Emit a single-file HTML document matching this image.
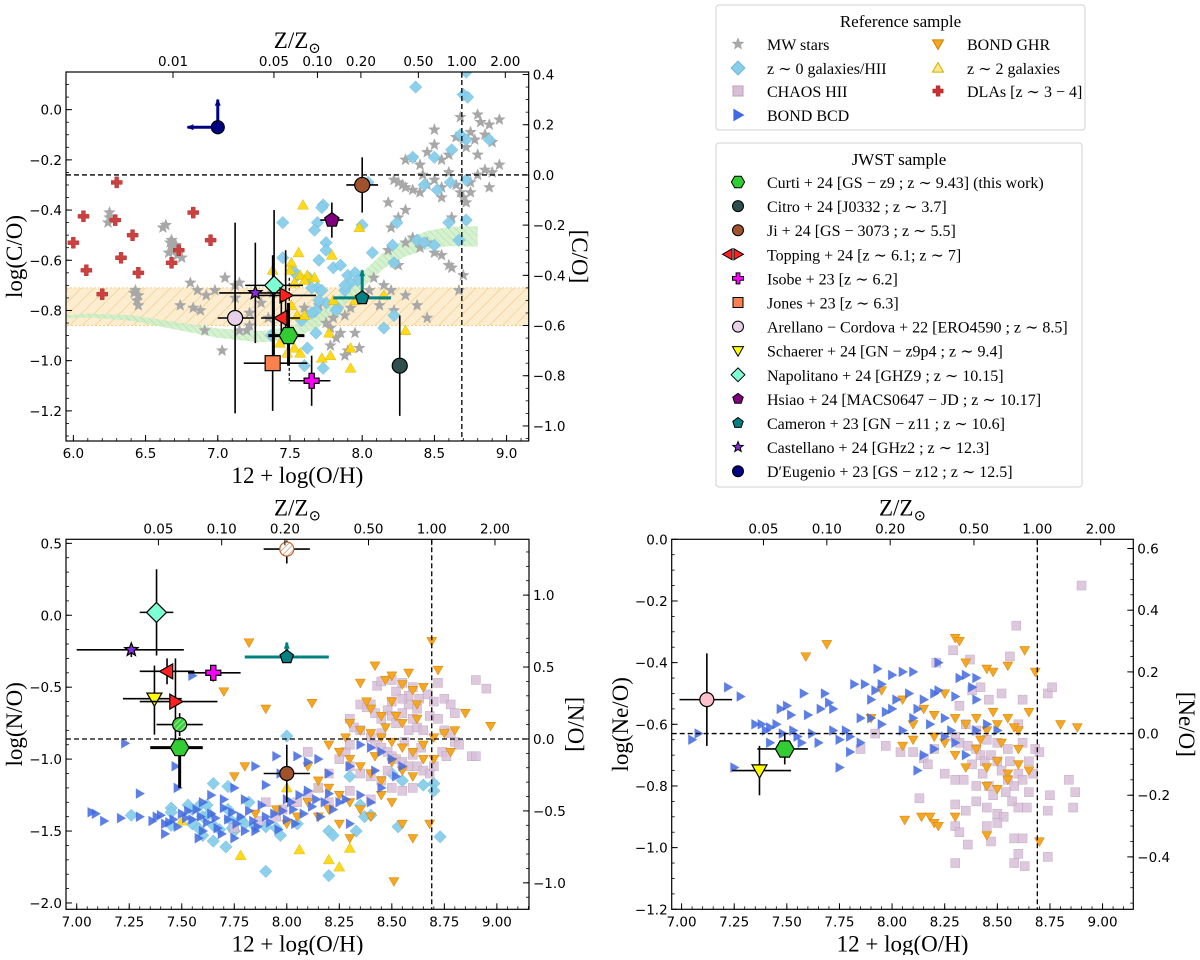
<!DOCTYPE html>
<html><head><meta charset="utf-8"><style>
body{margin:0;background:#fff}
svg text{font-family:"DejaVu Sans",sans-serif}
.serif{font-family:"Liberation Serif","DejaVu Serif",serif}
</style></head><body>
<svg id="fig" xmlns="http://www.w3.org/2000/svg" width="1200" height="955" viewBox="0 0 1200 955">
<defs>
<pattern id="hatchO" patternUnits="userSpaceOnUse" width="9" height="9" patternTransform="rotate(45)"><rect width="9" height="9" fill="#fde9c4" fill-opacity="0.8"/><line x1="0" y1="0" x2="0" y2="9" stroke="#e8b64a" stroke-width="0.8"/></pattern>
<pattern id="hatchG" patternUnits="userSpaceOnUse" width="5" height="5" patternTransform="rotate(-45)"><rect width="5" height="5" fill="#cdeec8"/><line x1="0" y1="0" x2="0" y2="5" stroke="#8fd48a" stroke-width="0.8"/></pattern>
<pattern id="hatchGr" patternUnits="userSpaceOnUse" width="4" height="4" patternTransform="rotate(45)"><rect width="4" height="4" fill="#3bd13b"/><line x1="0" y1="0" x2="0" y2="4" stroke="#fff" stroke-width="1"/></pattern>
<pattern id="hatchBr" patternUnits="userSpaceOnUse" width="4" height="4" patternTransform="rotate(45)"><rect width="4" height="4" fill="#fff"/><line x1="0" y1="0" x2="0" y2="4" stroke="#d0804a" stroke-width="1.2"/></pattern>
</defs>
</svg>
<script>
// ---------------- DATA ----------------
const dlaX=[6.30,6.07,6.29,6.83,6.00,6.41,6.95,6.09,6.33,6.45,6.20,6.73,6.68];
const dlaY=[-0.29,-0.425,-0.44,-0.41,-0.53,-0.50,-0.52,-0.64,-0.59,-0.65,-0.735,-0.56,-0.61];
const mwX=[6.25,6.25,6.27,6.24,6.43,6.45,6.44,6.45,6.42,6.62,6.64,6.67,6.69,6.70,6.66,6.71,6.72,6.75,6.68,6.81,6.86,6.92,6.98,7.05,7.12,7.15,6.74,6.83,6.88,6.91,7.03,7.15,7.2,7.22,7.12,7.22,7.3,7.35,7.38,7.6,7.65,7.7,7.75,7.78,7.8,7.85,7.88,7.82,7.78,7.9,7.95,7.98,7.88,7.92,8.05,8.08,8.15,8.2,8.12,8.22,8.3,8.18,8.22,8.25,8.3,8.35,8.4,8.45,8.5,8.55,8.6,8.62,8.67,8.7,8.38,8.45,8.2,8.25,8.3,8.18,8.22,8.25,8.28,8.3,8.35,8.4,8.45,8.5,8.55,8.6,8.65,8.68,8.7,8.72,8.75,8.8,8.85,8.9,8.88,8.4,8.45,8.5,8.55,8.6,8.65,8.7,8.72,8.75,8.78,8.8,8.82,8.85,8.9,8.95,8.95,8.68,8.5,8.3,8.35,8.42,8.55,8.62,8.75,8.88,8.8];
const mwY=[-0.41,-0.43,-0.44,-0.45,-0.72,-0.74,-0.76,-0.78,-0.73,-0.47,-0.46,-0.53,-0.55,-0.56,-0.57,-0.54,-0.58,-0.59,-0.52,-0.69,-0.72,-0.74,-0.72,-0.67,-0.70,-0.69,-0.78,-0.79,-0.80,-0.88,-0.96,-0.88,-0.88,-0.86,-0.75,-0.81,-0.77,-0.83,-0.73,-0.79,-0.81,-0.78,-0.85,-0.87,-0.83,-0.89,-0.82,-0.91,-0.94,-0.96,-0.89,-0.95,-0.98,-0.79,-0.72,-0.67,-0.70,-0.72,-0.78,-0.80,-0.74,-0.56,-0.61,-0.62,-0.53,-0.51,-0.55,-0.53,-0.57,-0.58,-0.62,-0.63,-0.72,-0.66,-0.78,-0.83,-0.47,-0.43,-0.40,-0.37,-0.28,-0.29,-0.30,-0.31,-0.32,-0.33,-0.30,-0.28,-0.31,-0.25,-0.30,-0.33,-0.35,-0.37,-0.29,-0.26,-0.24,-0.25,-0.31,-0.22,-0.17,-0.14,-0.20,-0.18,-0.11,-0.12,-0.15,-0.09,-0.12,-0.18,-0.05,-0.10,-0.13,-0.04,-0.22,-0.03,-0.08,-0.20,-0.19,-0.26,-0.35,-0.43,-0.33,-0.06,-0.02];
const z0X=[8.37,8.72,8.70,8.73,8.35,8.50,8.62,8.68,8.72,8.88,8.43,8.52,8.61,8.72,8.04,7.73,7.72,7.69,7.67,8.00,7.45,8.24,8.60,8.72,7.75,7.75,7.70,7.45,8.21,8.38,8.43,8.07,8.22,8.67,7.52,7.55,7.63,7.69,7.75,7.72,7.80,7.85,7.90,7.95,7.97,7.88,7.92,7.83,7.70,7.68,7.65,7.58,7.68,7.62,7.73,7.60,7.37,7.65,7.82,8.22,8.15,8.50,7.88];
const z0Y=[0.09,0.15,0.06,0.05,-0.19,-0.19,-0.16,-0.10,-0.12,-0.12,-0.30,-0.32,-0.29,-0.28,-0.29,-0.38,-0.39,-0.45,-0.48,-0.46,-0.45,-0.45,-0.45,-0.44,-0.53,-0.56,-0.60,-0.59,-0.54,-0.52,-0.53,-0.57,-0.61,-0.52,-0.64,-0.66,-0.67,-0.71,-0.77,-0.72,-0.63,-0.62,-0.66,-0.65,-0.68,-0.72,-0.69,-0.79,-0.76,-0.80,-0.81,-0.84,-0.89,-0.95,-1.03,-1.02,-0.90,-0.71,-0.80,-0.82,-0.87,-0.54,-0.70];
const z2X=[7.59,7.98,7.56,7.79,7.38,7.51,7.50,7.57,7.62,7.67,7.60,7.53,7.80,7.95,8.15,7.51,7.55,7.77,7.47,7.43,7.53,7.57,7.78,7.92,7.72,7.48,7.92,8.30,7.60];
const z2Y=[-0.38,-0.47,-0.57,-0.58,-0.64,-0.61,-0.64,-0.66,-0.66,-0.67,-0.68,-0.69,-0.76,-0.76,-0.74,-0.78,-0.82,-0.89,-0.91,-0.93,-0.95,-0.97,-0.98,-0.95,-0.99,-0.97,-1.03,-0.88,-0.82];
const bandX=[5.95,6.1,6.4,6.7,7.0,7.3,7.5,7.7,7.85,8.0,8.15,8.3,8.45,8.6,8.8];
const bandY=[-0.825,-0.82,-0.83,-0.86,-0.89,-0.905,-0.89,-0.84,-0.76,-0.68,-0.60,-0.55,-0.52,-0.505,-0.505];
const hatchBand=[-0.71,-0.86];

const nz0X=[7.26,7.45,7.45,7.45,7.53,7.55,7.58,7.60,7.62,7.63,7.65,7.55,7.58,7.65,7.68,7.72,7.73,7.74,7.71,7.72,7.65,7.75,7.80,7.82,7.90,7.90,7.95,7.97,8.00,8.05,8.20,8.22,8.20,8.30,8.35,8.40,8.33,8.50,8.55,8.53,8.65,8.70,8.70,8.73,8.37,7.85,7.78,7.60];
const nz0Y=[-1.39,-1.34,-1.37,-1.46,-1.32,-1.35,-1.33,-1.40,-1.32,-1.38,-1.46,-1.45,-1.48,-1.57,-1.49,-1.35,-1.42,-1.48,-1.61,-1.19,-1.17,-1.50,-1.45,-1.30,-1.47,-1.78,-1.48,-1.53,-0.84,-1.45,-1.50,-1.53,-1.81,-1.12,-1.32,-1.39,-1.50,-1.10,-1.15,-1.47,-1.18,-1.17,-1.22,-1.54,-1.40,-1.47,-1.42,-1.53];
const nz2X=[7.50,7.78,8.00,8.06,8.15,8.20,8.25,8.30];
const nz2Y=[-1.43,-1.67,-1.20,-1.63,-1.20,-1.70,-1.75,-1.62];
const nbcdX=[7.07,7.09,7.13,7.21,7.23,7.30,7.36,7.38,7.40,7.42,7.44,7.46,7.48,7.50,7.52,7.53,7.55,7.57,7.59,7.60,7.62,7.64,7.66,7.67,7.69,7.70,7.72,7.74,7.76,7.78,7.80,7.82,7.84,7.86,7.88,7.90,7.92,7.94,7.96,7.98,8.00,8.02,8.04,8.06,8.08,8.10,8.12,8.14,8.16,8.18,8.20,8.22,8.25,8.28,8.30,8.35,8.40,7.47,7.48,7.55,7.85,7.97,8.05,8.10,8.15,7.95,8.35,8.40,8.45,8.50,8.55,8.52,8.45,7.70,7.80,7.64,7.75,7.90,8.00,8.20,8.30,8.42,7.42,7.58,7.60,7.75,7.85,8.03,7.30];
const nbcdY=[-1.37,-1.38,-1.43,-1.41,-0.89,-1.24,-1.43,-1.40,-1.39,-1.45,-1.44,-1.42,-1.47,-1.38,-1.41,-1.36,-1.42,-1.35,-1.40,-1.30,-1.44,-1.38,-1.41,-1.48,-1.52,-1.34,-1.42,-1.37,-1.45,-1.40,-1.50,-1.36,-1.43,-1.47,-1.32,-1.40,-1.44,-1.38,-1.49,-1.36,-1.42,-1.30,-1.45,-1.25,-1.38,-1.22,-1.33,-1.28,-1.40,-1.30,-1.24,-1.35,-1.30,-1.28,-1.45,-1.25,-1.30,-1.05,-1.20,-0.42,-1.05,-1.10,-0.98,-1.02,-1.00,-0.98,-0.90,-0.92,-0.95,-1.00,-1.05,-1.12,-1.20,-1.28,-1.28,-1.25,-1.20,-1.18,-1.28,-1.10,-1.05,-1.08,-1.52,-1.55,-1.50,-1.55,-1.50,-1.35,-1.40];
const nghrX=[7.82,7.70,8.12,7.90,8.35,8.42,8.47,8.50,8.55,8.58,8.60,8.65,8.69,8.72,8.85,8.97,8.40,8.45,8.50,8.55,8.62,8.30,8.35,8.40,8.45,8.50,8.55,8.60,8.65,8.70,8.75,8.80,8.20,8.25,8.30,8.35,8.40,8.45,8.50,8.55,8.60,8.65,8.10,8.15,8.20,8.25,8.30,8.35,8.40,8.45,8.50,8.55,8.60,8.30,8.20,8.10,8.05,8.00,7.95,8.15,8.25,7.80,7.75,8.68,8.51,7.85,8.70,8.78,8.62,8.38,8.28,8.42,8.47,8.52];
const nghrY=[-0.19,-0.53,-0.61,-0.65,-0.47,-0.35,-0.45,-0.42,-0.48,-0.40,-0.52,-0.50,-0.18,-0.38,-0.68,-0.77,-0.65,-0.70,-0.60,-0.75,-0.72,-0.75,-0.80,-0.82,-0.85,-0.88,-0.92,-0.95,-0.90,-0.85,-0.82,-0.80,-0.90,-0.95,-1.00,-1.05,-1.10,-1.15,-1.02,-1.08,-1.12,-1.00,-1.05,-1.15,-1.20,-1.25,-1.30,-1.35,-1.40,-1.25,-1.30,-1.45,-1.55,-1.55,-1.35,-1.30,-1.40,-1.45,-1.35,-1.40,-1.45,-1.05,-1.12,-1.45,-1.85,-1.38,-1.00,-0.95,-0.62,-0.60,-0.85,-0.98,-0.78,-0.70];
const nchX=[8.43,8.45,8.50,8.52,8.55,8.58,8.60,8.63,8.67,8.70,8.72,8.75,8.78,8.80,8.90,8.95,8.35,8.38,8.40,8.42,8.45,8.48,8.50,8.52,8.55,8.58,8.60,8.62,8.65,8.68,8.72,8.75,8.78,8.80,8.82,8.74,8.76,8.88,8.90,8.30,8.32,8.35,8.40,8.42,8.45,8.48,8.50,8.52,8.55,8.58,8.60,8.62,8.65,8.68,8.70,8.28,8.25,8.30,8.35,8.40,8.45,8.50,8.55,8.60,8.20,8.15,8.10,8.05,7.98,7.90,7.95,8.20,8.30,8.40,8.48,8.56,8.64,8.58,8.50,8.62,7.87,7.75,8.10,8.30,8.45,8.55];
const nchY=[-0.49,-0.46,-0.45,-0.53,-0.47,-0.56,-0.50,-0.58,-0.55,-0.60,-0.47,-0.58,-0.62,-0.68,-0.45,-0.51,-0.62,-0.64,-0.62,-0.68,-0.72,-0.66,-0.70,-0.75,-0.68,-0.80,-0.72,-0.78,-0.80,-0.70,-0.72,-0.80,-0.82,-0.88,-0.90,-0.95,-0.98,-0.98,-0.98,-0.72,-0.78,-0.80,-0.85,-0.90,-0.92,-0.95,-0.98,-1.00,-1.02,-1.05,-0.97,-1.05,-1.08,-1.10,-1.05,-0.95,-1.00,-1.05,-1.10,-1.12,-1.15,-1.20,-1.22,-1.20,-1.10,-1.20,-1.25,-1.30,-1.35,-1.30,-1.40,-1.30,-1.22,-1.28,-1.08,-0.88,-0.92,-0.62,-0.60,-0.65,-1.43,-1.48,-0.95,-0.90,-0.82,-0.58];

const ebcdX=[7.05,7.08,7.22,7.25,7.28,7.38,7.40,7.42,7.45,7.47,7.50,7.52,7.53,7.55,7.57,7.58,7.60,7.62,7.65,7.68,7.70,7.72,7.72,7.75,7.75,7.78,7.80,7.82,7.85,7.87,7.90,7.92,7.93,7.95,7.97,8.00,8.02,8.05,8.08,8.10,8.12,8.15,8.18,8.20,8.22,8.25,8.28,8.30,8.32,8.35,8.38,8.40,8.45,8.50,8.15,8.12,8.10,8.05,8.00,7.95,7.90,7.85,7.80,8.20,8.25,8.30,8.35,8.40,7.66,7.42,7.35,7.48,8.22,8.40];
const ebcdY=[-0.65,-0.63,-0.48,-0.74,-0.51,-0.60,-0.62,-0.61,-0.60,-0.55,-0.54,-0.57,-0.62,-0.64,-0.66,-0.50,-0.57,-0.63,-0.66,-0.50,-0.53,-0.55,-0.62,-0.65,-0.74,-0.62,-0.64,-0.47,-0.58,-0.47,-0.52,-0.49,-0.42,-0.47,-0.56,-0.44,-0.52,-0.43,-0.50,-0.43,-0.55,-0.52,-0.60,-0.50,-0.49,-0.58,-0.62,-0.51,-0.45,-0.44,-0.48,-0.52,-0.60,-0.62,-0.70,-0.75,-0.58,-0.62,-0.55,-0.60,-0.58,-0.66,-0.69,-0.68,-0.64,-0.66,-0.70,-0.62,-0.55,-0.66,-0.60,-0.63,-0.40,-0.45];
const eghrX=[7.69,7.59,8.30,8.32,8.35,8.45,8.48,8.55,8.63,8.68,8.80,8.88,7.95,7.90,8.05,8.10,8.15,8.20,8.25,8.30,8.35,8.40,8.45,8.50,8.55,8.60,8.65,8.05,8.10,8.20,8.30,8.40,8.45,8.50,8.55,8.60,8.65,8.45,8.50,8.55,8.35,8.06,8.14,8.18,8.20,8.22,8.30,8.45,8.70,8.42,8.52,8.60,8.48,8.58,8.25];
const eghrY=[-0.34,-0.38,-0.32,-0.33,-0.40,-0.42,-0.43,-0.41,-0.36,-0.43,-0.60,-0.61,-0.49,-0.58,-0.52,-0.60,-0.55,-0.57,-0.50,-0.58,-0.60,-0.58,-0.62,-0.60,-0.58,-0.62,-0.56,-0.67,-0.65,-0.64,-0.70,-0.68,-0.74,-0.72,-0.76,-0.73,-0.75,-0.80,-0.81,-0.78,-0.74,-0.91,-0.90,-0.90,-0.92,-0.93,-0.90,-0.96,-0.98,-0.65,-0.66,-0.68,-0.56,-0.61,-0.66];
const echX=[8.90,8.59,8.29,8.37,8.56,8.21,8.52,8.74,8.76,8.38,8.42,8.46,8.62,7.92,7.97,7.85,8.04,8.15,8.17,8.32,8.35,8.40,8.45,8.50,8.55,8.60,8.62,8.65,8.68,8.70,8.30,8.32,8.36,8.40,8.42,8.44,8.47,8.50,8.52,8.55,8.58,8.60,8.62,8.65,8.25,8.30,8.34,8.38,8.43,8.46,8.54,8.57,8.60,8.64,8.13,8.30,8.35,8.40,8.45,8.50,8.53,8.30,8.32,8.36,8.45,8.47,8.50,8.58,8.62,8.63,8.58,8.60,8.30,8.75,8.74,8.84,8.86,8.74,8.87,8.48,8.56,8.67,8.40,8.20,8.10];
const echY=[-0.15,-0.28,-0.36,-0.39,-0.38,-0.40,-0.50,-0.50,-0.48,-0.49,-0.48,-0.52,-0.52,-0.63,-0.67,-0.68,-0.69,-0.71,-0.73,-0.54,-0.60,-0.62,-0.65,-0.66,-0.68,-0.60,-0.66,-0.72,-0.68,-0.69,-0.64,-0.66,-0.67,-0.68,-0.70,-0.72,-0.70,-0.72,-0.75,-0.78,-0.80,-0.76,-0.78,-0.82,-0.76,-0.78,-0.78,-0.73,-0.76,-0.80,-0.82,-0.85,-0.87,-0.87,-0.84,-0.86,-0.88,-0.85,-0.87,-0.89,-0.90,-0.93,-0.95,-0.99,-0.93,-0.98,-0.92,-0.97,-0.97,-1.06,-1.05,-1.02,-1.05,-0.83,-0.88,-0.78,-0.87,-1.03,-0.82,-0.83,-0.72,-0.76,-0.80,-0.68,-0.69];

// JWST points: [x, xlo, xhi, y, ylo, yhi]
const p1Curti=[7.49,7.35,7.60,-0.90,-1.02,-0.77];
const p1Citro=[8.26,8.23,8.29,-1.02,-1.22,-0.82];
const p1Ji=[8.00,7.89,8.11,-0.30,-0.41,-0.19];
const p1ToppingL=[7.44,7.30,7.57,-0.83,-0.90,-0.76];
const p1ToppingR=[7.47,7.28,7.68,-0.74,-0.90,-0.56];
const p1Isobe=[7.65,7.50,7.78,-1.08,-1.18,-0.98];
const p1Jones=[7.38,7.18,7.62,-1.01,-1.20,-0.58];
const p1Arellano=[7.12,7.00,7.25,-0.83,-1.21,-0.45];
const p1Napolitano=[7.39,7.19,7.59,-0.70,-0.98,-0.40];
const p1Hsiao=[7.79,7.71,7.87,-0.44,-0.51,-0.37];
const p1Cameron=[8.00,7.80,8.20,-0.75,-0.75,-0.64];
const p1Castellano=[7.26,7.01,7.50,-0.73,-0.93,-0.53];
const p1Deugenio=[7.00,6.79,7.00,-0.07,-0.07,0.04];

const p2Arellano=[8.00,7.89,8.11,0.46,0.36,0.52];
const p2Napolitano=[7.38,7.30,7.46,0.02,-0.28,0.32];
const p2Castellano=[7.26,7.00,7.51,-0.24,-0.29,-0.22];
const p2Cameron=[8.00,7.80,8.20,-0.29,-0.29,-0.19];
const p2ToppingL=[7.43,7.30,7.56,-0.39,-0.48,-0.30];
const p2ToppingR=[7.47,7.30,7.67,-0.60,-0.90,-0.30];
const p2Isobe=[7.65,7.53,7.78,-0.40,-0.46,-0.36];
const p2Schaerer=[7.37,7.22,7.50,-0.58,-0.83,-0.35];
const p2CurtiAlt=[7.49,7.38,7.60,-0.76,-0.84,-0.68];
const p2Curti=[7.49,7.35,7.60,-0.92,-1.20,-0.85];
const p2Ji=[8.00,7.89,8.11,-1.10,-1.30,-0.90];

const p3Arellano=[7.12,6.99,7.24,-0.52,-0.67,-0.37];
const p3Curti=[7.49,7.36,7.60,-0.68,-0.73,-0.63];
const p3Schaerer=[7.37,7.24,7.52,-0.75,-0.83,-0.67];

const p1XTicks=[6.0,6.5,7.0,7.5,8.0,8.5,9.0];
const p1YTicks=[0.0,-0.2,-0.4,-0.6,-0.8,-1.0,-1.2];
const p1RTicks=[0.4,0.2,0.0,-0.2,-0.4,-0.6,-0.8,-1.0];
const p1ZTicks=[0.01,0.05,0.10,0.20,0.50,1.00,2.00];
const p2XTicks=[7.00,7.25,7.50,7.75,8.00,8.25,8.50,8.75,9.00];
const p2YTicks=[0.5,0.0,-0.5,-1.0,-1.5,-2.0];
const p2RTicks=[1.0,0.5,0.0,-0.5,-1.0];
const p2ZTicks=[0.05,0.10,0.20,0.50,1.00,2.00];
const p3YTicks=[0.0,-0.2,-0.4,-0.6,-0.8,-1.0,-1.2];
const p3RTicks=[0.6,0.4,0.2,0.0,-0.2,-0.4];
const solarOH=8.69;

// ---------------- DRAWING ----------------
const NS='http://www.w3.org/2000/svg';
const svg=document.getElementById('fig');
function E(tag,attrs,parent){const e=document.createElementNS(NS,tag);for(const k in attrs)e.setAttribute(k,attrs[k]);(parent||svg).appendChild(e);return e;}
function fmt(v,d){const s=Math.abs(v).toFixed(d);return (v<-1e-9?'\u2212':'')+s;}

function marker(g,type,cx,cy,s,fill,stroke,sw,op){
  let el;const r=s/2;
  if(type==='circle'){el=E('circle',{cx:cx,cy:cy,r:r},g);}
  else if(type==='square'){el=E('rect',{x:cx-r,y:cy-r,width:s,height:s},g);}
  else{
    let pts=[];
    if(type==='diamond')pts=[[0,-r*1.25],[r*1.25,0],[0,r*1.25],[-r*1.25,0]];
    else if(type==='triR')pts=[[r,0],[-r*0.75,-r],[-r*0.75,r]];
    else if(type==='triL')pts=[[-r,0],[r*0.75,-r],[r*0.75,r]];
    else if(type==='triD')pts=[[0,r],[-r,-r*0.75],[r,-r*0.75]];
    else if(type==='triU')pts=[[0,-r],[-r,r*0.75],[r,r*0.75]];
    else if(type==='hex'){for(let i=0;i<6;i++){const a=Math.PI/3*i;pts.push([r*1.1*Math.cos(a),r*1.1*Math.sin(a)]);}}
    else if(type==='pent'){for(let i=0;i<5;i++){const a=-Math.PI/2+2*Math.PI/5*i;pts.push([r*Math.cos(a),r*Math.sin(a)]);}}
    else if(type==='star'){for(let i=0;i<10;i++){const a=-Math.PI/2+Math.PI/5*i;const rr=i%2?r*0.42:r;pts.push([rr*Math.cos(a),rr*Math.sin(a)]);}}
    else if(type==='plus'){const a=r*0.35;pts=[[-a,-r],[a,-r],[a,-a],[r,-a],[r,a],[a,a],[a,r],[-a,r],[-a,a],[-r,a],[-r,-a],[-a,-a]];}
    el=E('polygon',{points:pts.map(p=>(cx+p[0]).toFixed(1)+','+(cy+p[1]).toFixed(1)).join(' ')},g);
  }
  el.setAttribute('fill',fill);el.setAttribute('stroke',stroke);el.setAttribute('stroke-width',sw);
  if(op!==undefined)el.setAttribute('opacity',op);
  return el;
}

function makePanel(c){
  const g=E('g',{});
  
  
  const sx=v=>c.L+(v-c.x0)/(c.x1-c.x0)*(c.R-c.L);
  const sy=v=>c.B-(v-c.y0)/(c.y1-c.y0)*(c.B-c.T);
  const cid='clip'+c.name;
  const cp=E('clipPath',{id:cid},g);E('rect',{x:c.L,y:c.T,width:c.R-c.L,height:c.B-c.T},cp);
  const plot=E('g',{'clip-path':'url(#'+cid+')'},g);
  return {g,plot,sx,sy,c};
}

function axes(P,xt,xd,yt,yd,rt,roff,zt,xminor,yminor,rminor){
  const {g,sx,sy,c}=P;
  const ax=E('g',{},g);
  
  
  E('rect',{x:c.L,y:c.T,width:c.R-c.L,height:c.B-c.T,fill:'none',stroke:'#000','stroke-width':1.2},ax);
  xt.forEach(v=>{const x=sx(v);E('line',{x1:x,y1:c.B,x2:x,y2:c.B-6,stroke:'#000'},ax);
    const t=E('text',{x:x,y:c.B+17,'text-anchor':'middle','font-size':13.5},ax);t.textContent=v.toFixed(xd);
    });
  for(let v=Math.ceil(c.x0/xminor)*xminor;v<c.x1;v+=xminor){const x=sx(v);E('line',{x1:x,y1:c.B,x2:x,y2:c.B-3,stroke:'#000','stroke-width':0.8},ax);}
  yt.forEach(v=>{const y=sy(v);E('line',{x1:c.L,y1:y,x2:c.L+6,y2:y,stroke:'#000'},ax);
    const t=E('text',{x:c.L-4,y:y+5,'text-anchor':'end','font-size':13.5},ax);t.textContent=fmt(v,yd);
    });
  for(let v=Math.ceil(c.y0/yminor)*yminor;v<c.y1;v+=yminor){const y=sy(v);E('line',{x1:c.L,y1:y,x2:c.L+3,y2:y,stroke:'#000','stroke-width':0.8},ax);}
  rt.forEach(v=>{const y=sy(v-roff);E('line',{x1:c.R,y1:y,x2:c.R-6,y2:y,stroke:'#000'},ax);
    const t=E('text',{x:c.R+4,y:y+5,'text-anchor':'start','font-size':13.5},ax);t.textContent=fmt(v,1);
    });
  for(let v=Math.ceil((c.y0+roff)/rminor)*rminor;v<c.y1+roff;v+=rminor){const y=sy(v-roff);E('line',{x1:c.R,y1:y,x2:c.R-3,y2:y,stroke:'#000','stroke-width':0.8},ax);}
  zt.forEach(v=>{const x=sx(solarOH+Math.log10(v));E('line',{x1:x,y1:c.T,x2:x,y2:c.T+6,stroke:'#000'},ax);
    const t=E('text',{x:x,y:c.T-6,'text-anchor':'middle','font-size':13.5},ax);t.textContent=v.toFixed(2);
    });
}

function labels(P,ylab,rlab,ylx,rlx){
  const {g,c}=P;const cx=(c.L+c.R)/2,cy=(c.T+c.B)/2;
  let t=E('text',{x:cx,y:c.B+42,'text-anchor':'middle','font-size':23,class:'serif'},g);t.textContent='12 + log(O/H)';
  
  t=E('text',{x:cx,y:c.T-24,'text-anchor':'middle','font-size':23,class:'serif'},g);t.innerHTML='Z/Z<tspan font-size="15" dy="5">\u2299</tspan>';
  
  t=E('text',{x:0,y:0,'text-anchor':'middle','font-size':23,class:'serif',transform:'translate('+ylx+','+cy+') rotate(-90)'},g);t.textContent=ylab;
  
  t=E('text',{x:0,y:0,'text-anchor':'middle','font-size':23,class:'serif',transform:'translate('+rlx+','+cy+') rotate(90)'},g);t.textContent=rlab;
  
}

function scatter(P,xs,ys,type,s,fill,stroke,sw,op,name){
  const gg=E('g',{},P.plot);
  
  
  xs.forEach((x,i)=>{const m=marker(gg,type,P.sx(x),P.sy(ys[i]),s,fill,stroke,sw,op);
    
    });
}

function jwst(P,d,type,s,fill,name,opt){
  opt=opt||{};
  const gg=E('g',{},P.plot);
  
  
  const col=opt.ecol||'#000',w=opt.ew||1.6;
  const x=P.sx(d[0]),y=P.sy(d[3]);
  E('line',{x1:P.sx(d[1]),y1:y,x2:P.sx(d[2]),y2:y,stroke:col,'stroke-width':w},gg);
  E('line',{x1:x,y1:P.sy(d[4]),x2:x,y2:P.sy(d[5]),stroke:col,'stroke-width':w},gg);
  if(opt.arrowUp){E('polygon',{points:`${x-3},${P.sy(d[5])+6} ${x+3},${P.sy(d[5])+6} ${x},${P.sy(d[5])-1}`,fill:col},gg);}
  if(opt.arrowLeft){const xl=P.sx(d[1]);E('polygon',{points:`${xl+6},${y-3} ${xl+6},${y+3} ${xl-1},${y}`,fill:col},gg);}
  const m=marker(gg,type,x,y,s,fill,opt.stroke||'#000',opt.sw||1.2);
  
  
}

function dashedRef(P,yv){
  const {plot,sx,sy,c}=P;
  E('line',{x1:c.L,y1:sy(yv),x2:c.R,y2:sy(yv),stroke:'#000','stroke-width':1.3,'stroke-dasharray':'5,3'},plot);
  E('line',{x1:sx(solarOH),y1:c.T,x2:sx(solarOH),y2:c.B,stroke:'#000','stroke-width':1.3,'stroke-dasharray':'5,3'},plot);
}

const lightblue='#87ceeb',gray='#a8a8a8',bcd='#4169e1',ghr='#f5a623',chaos='#d8bfd8',yel='#ffd700';

// ===== Panel 1 =====
const P1=makePanel({name:'panel-c-o',L:66,R:528.7,T:72,B:441,x0:5.949,x1:9.153,y0:-1.32,y1:0.15});
{
  const {plot,sx,sy,c}=P1;
  const hb=E('rect',{x:c.L,y:sy(hatchBand[0]),width:c.R-c.L,height:sy(hatchBand[1])-sy(hatchBand[0]),fill:'url(#hatchO)',stroke:'#f0c060','stroke-width':0.8,'stroke-dasharray':'2,2'},plot);
  
  const up=[],lo=[];
  bandX.forEach((x,i)=>{const w=0.006+0.035*(x-bandX[0])/(bandX[bandX.length-1]-bandX[0]);up.push(sx(x)+','+sy(bandY[i]+w));lo.unshift(sx(x)+','+sy(bandY[i]-w));});
  const gb=E('polygon',{points:up.concat(lo).join(' '),fill:'url(#hatchG)',opacity:0.85},plot);
  
}
scatter(P1,mwX,mwY,'star',12,gray,gray,0.5,1,'mw-stars');
scatter(P1,z0X,z0Y,'diamond',10,lightblue,'#6fb6d6',0.5,0.95,'z0-galaxies');
scatter(P1,z2X,z2Y,'triU',11,yel,'#d4b000',0.5,0.9,'z2-galaxies');
scatter(P1,dlaX,dlaY,'plus',11,'#cd4040','#b03030',0.5,1,'dlas');
dashedRef(P1,-0.26);
E('line',{x1:P1.sx(7.495),y1:P1.sy(-0.67),x2:P1.sx(7.495),y2:P1.sy(-1.09),stroke:'#000','stroke-width':1.2,'stroke-dasharray':'3,2'},P1.plot);
jwst(P1,p1Arellano,'circle',15,'#e8d0e8','arellano-cordova-22');
jwst(P1,p1Jones,'square',15,'#fa8050','jones-23');
jwst(P1,p1Napolitano,'diamond',15,'#7fffd4','napolitano-24');
jwst(P1,p1Castellano,'star',14,'#8a2be2','castellano-24');
jwst(P1,p1ToppingR,'triR',15,'#ff2020','topping-24-z7');
jwst(P1,p1ToppingL,'triL',15,'#ff2020','topping-24-z61');
jwst(P1,p1Isobe,'plus',15,'#ff00ff','isobe-23');
jwst(P1,p1Hsiao,'pent',15,'#800080','hsiao-24');
jwst(P1,p1Ji,'circle',15,'#a0522d','ji-24');
jwst(P1,p1Citro,'circle',15,'#2f4f4f','citro-24');
jwst(P1,p1Cameron,'pent',14,'#008080','cameron-23',{ecol:'#008080',ew:3,arrowUp:true});
jwst(P1,p1Deugenio,'circle',13,'#000080','deugenio-23',{ecol:'#000080',ew:3,arrowUp:true,arrowLeft:true});
jwst(P1,p1Curti,'hex',17,'#32cd32','curti-24',{ew:3});
axes(P1,p1XTicks,1,p1YTicks,1,p1RTicks,0.26,p1ZTicks,0.1,0.05,0.05);
labels(P1,'log(C/O)','[C/O]',22,572);

// ===== Panel 2 =====
const P2=makePanel({name:'panel-n-o',L:66,R:529,T:539.3,B:909.3,x0:6.949,x1:9.153,y0:-2.044,y1:0.528});
scatter(P2,nz0X,nz0Y,'diamond',10,lightblue,'#6fb6d6',0.5,0.95,'z0-galaxies');
scatter(P2,nz2X,nz2Y,'triU',11,yel,'#d4b000',0.5,0.9,'z2-galaxies');
scatter(P2,nchX,nchY,'square',9,chaos,'#b8a0b8',0.5,0.85,'chaos-hii');
scatter(P2,nghrX,nghrY,'triD',10,ghr,'#d08000',0.5,1,'bond-ghr');
scatter(P2,nbcdX,nbcdY,'triR',10,bcd,bcd,0.3,0.85,'bond-bcd');
dashedRef(P2,-0.86);
jwst(P2,p2Arellano,'circle',14,'url(#hatchBr)','arellano-cordova-22',{stroke:'#c06030'});
jwst(P2,p2Napolitano,'diamond',16,'#7fffd4','napolitano-24');
jwst(P2,p2Castellano,'star',14,'#8a2be2','castellano-24');
jwst(P2,p2Cameron,'pent',14,'#008080','cameron-23',{ecol:'#008080',ew:3,arrowUp:true});
jwst(P2,p2Schaerer,'triD',15,'#ffff00','schaerer-24');
jwst(P2,p2ToppingR,'triR',15,'#ff2020','topping-24-z7');
jwst(P2,p2ToppingL,'triL',15,'#ff2020','topping-24-z61');
jwst(P2,p2Isobe,'plus',15,'#ff00ff','isobe-23');
jwst(P2,p2CurtiAlt,'circle',14,'url(#hatchGr)','curti-24-alt');
jwst(P2,p2Curti,'hex',17,'#32cd32','curti-24',{ew:3});
jwst(P2,p2Ji,'circle',14,'#a0522d','ji-24');
axes(P2,p2XTicks,2,p2YTicks,1,p2RTicks,0.86,p2ZTicks,0.05,0.1,0.1);
labels(P2,'log(N/O)','[N/O]',22,568);

// ===== Panel 3 =====
const P3=makePanel({name:'panel-ne-o',L:671.7,R:1133.3,T:539.3,B:909.3,x0:6.953,x1:9.146,y0:-1.2,y1:0});
scatter(P3,echX,echY,'square',9,chaos,'#b8a0b8',0.5,0.85,'chaos-hii');
scatter(P3,eghrX,eghrY,'triD',10,ghr,'#d08000',0.5,1,'bond-ghr');
scatter(P3,ebcdX,ebcdY,'triR',10,bcd,bcd,0.3,0.85,'bond-bcd');
dashedRef(P3,-0.63);
jwst(P3,p3Arellano,'circle',14,'#ffc0cb','arellano-cordova-22');
jwst(P3,p3Schaerer,'triD',15,'#ffff00','schaerer-24');
jwst(P3,p3Curti,'hex',17,'#32cd32','curti-24',{ew:1.6});
axes(P3,p2XTicks,2,p3YTicks,1,p3RTicks,0.63,p2ZTicks,0.05,0.05,0.05);
labels(P3,'log(Ne/O)','[Ne/O]',628,1179);

// ===== Legends =====
function legendBox(x,y,w,h,title,name){
  const g=E('g',{});
  
  
  E('rect',{x:x,y:y,width:w,height:h,rx:3,fill:'#fff',stroke:'#d0d0d0','stroke-width':1},g);
  const t=E('text',{x:x+w/2,y:y+22,'text-anchor':'middle','font-size':17,class:'serif'},g);t.textContent=title;
  return g;
}
function legendEntry(g,mx,tx,y,type,s,fill,stroke,label,name){
  const e=E('g',{},g);
  
  
  marker(e,type,mx,y,s,fill,stroke,1);
  const t=E('text',{x:tx,y:y+6,'font-size':16,class:'serif'},e);t.textContent=label;
}
const L1=legendBox(716,5,369,125,'Reference sample','legend-reference');
legendEntry(L1,738,767,44,'star',11,gray,gray,'MW stars','legend-mw-stars');
legendEntry(L1,738,767,68,'diamond',11,lightblue,'#6fb6d6','z \u223C 0 galaxies/HII','legend-z0');
legendEntry(L1,738,767,91,'square',10,chaos,'#b8a0b8','CHAOS HII','legend-chaos');
legendEntry(L1,738,767,115,'triR',11,bcd,bcd,'BOND BCD','legend-bcd');
legendEntry(L1,938,967,44,'triD',11,ghr,'#d08000','BOND GHR','legend-ghr');
legendEntry(L1,938,967,68,'triU',11,'#ffe98a','#d4b000','z \u223C 2 galaxies','legend-z2');
legendEntry(L1,938,967,91,'plus',10,'#cd3030','#b03030','DLAs [z \u223C 3 \u2212 4]','legend-dlas');
const L2=legendBox(716,143,366,344,'JWST sample','legend-jwst');
const jl=[['hex',12,'#32cd32','Curti + 24 [GS \u2212 z9 ;  z \u223C 9.43] (this work)'],
['circle',11,'#2f4f4f','Citro + 24 [J0332 ;  z \u223C 3.7]'],
['circle',11,'#a0522d','Ji + 24 [GS \u2212 3073 ;  z \u223C 5.5]'],
['triR',11,'#ff2020','Topping + 24 [z \u223C 6.1;  z \u223C 7]'],
['plus',11,'#ff00ff','Isobe + 23 [z \u223C 6.2]'],
['square',10,'#fa8050','Jones + 23 [z \u223C 6.3]'],
['circle',11,'#e8d0e8','Arellano \u2212 Cordova + 22 [ERO4590 ;  z \u223C 8.5]'],
['triD',11,'#ffff00','Schaerer + 24 [GN \u2212 z9p4 ;  z \u223C 9.4]'],
['diamond',11,'#7fffd4','Napolitano + 24 [GHZ9 ;  z \u223C 10.15]'],
['pent',11,'#800080','Hsiao + 24 [MACS0647 \u2212 JD ;  z \u223C 10.17]'],
['pent',11,'#008080','Cameron + 23 [GN \u2212 z11 ;  z \u223C 10.6]'],
['star',11,'#8a2be2','Castellano + 24 [GHz2 ;  z \u223C 12.3]'],
['circle',11,'#000080','D\u2032Eugenio + 23 [GS \u2212 z12 ;  z \u223C 12.5]']];
jl.forEach((r,i)=>{
  const y=182+i*24.1;
  legendEntry(L2,738,767,y,r[0],r[1],r[2],'#000',r[3],'legend-jwst-entry');
  if(r[0]==='triR'){marker(L2,'triL',728,y,11,'#ff2020','#000',1);}
});
</script>
</body></html>
